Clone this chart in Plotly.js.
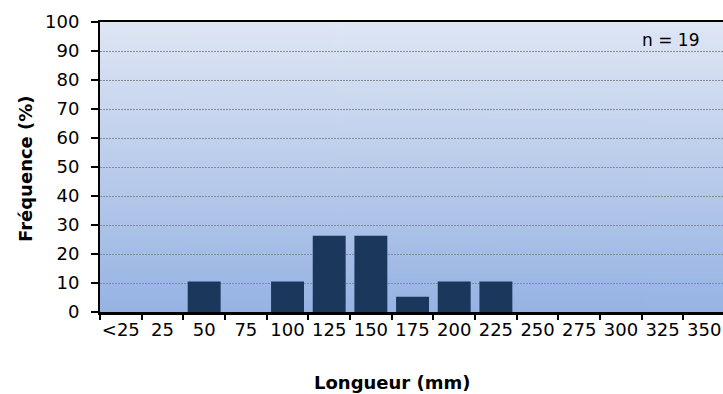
<!DOCTYPE html>
<html>
<head>
<meta charset="utf-8">
<script src="https://cdn.plot.ly/plotly-3.0.1.min.js"></script>
<style>
html,body{margin:0;padding:0;background:#fff;overflow:hidden;}
#chart{width:723px;height:394px;}
</style>
</head>
<body>
<div id="chart"></div>
<script>
var categories = ["<25","25","50","75","100","125","150","175","200","225","250","275","300","325","350"];
var frequencies = [0, 0, 10.5, 0, 10.5, 26.3, 26.3, 5.3, 10.5, 10.5, 0, 0, 0, 0, 0];
var sampleLabel = "n = 19";
var xTitle = "Longueur (mm)";
var yTitle = "Fréquence (%)";

function gradientURL(top, bottom){
  var c = document.createElement('canvas');
  c.width = 4; c.height = 256;
  var ctx = c.getContext('2d');
  var g = ctx.createLinearGradient(0,0,0,256);
  g.addColorStop(0, top);
  g.addColorStop(1, bottom);
  ctx.fillStyle = g;
  ctx.fillRect(0,0,4,256);
  return c.toDataURL();
}

var FONT = "DejaVu Sans, Arial, sans-serif";

var trace = {
  type: 'bar',
  x: categories,
  y: frequencies,
  width: 0.79,
  marker: {color: '#1b375c', line: {width: 0}},
  hoverinfo: 'x+y'
};

var layout = {
  width: 723,
  height: 394,
  margin: {l: 100, r: 0, t: 22, b: 82, pad: 0},
  paper_bgcolor: '#ffffff',
  plot_bgcolor: 'rgba(0,0,0,0)',
  showlegend: false,
  font: {family: FONT, size: 18, color: '#000'},
  bargap: 0.21,
  images: [{
    source: gradientURL('#dfe6f4', '#96b3e3'),
    xref: 'paper', yref: 'paper',
    x: 0, y: 1, sizex: 1, sizey: 1,
    xanchor: 'left', yanchor: 'top',
    sizing: 'stretch', layer: 'below'
  }],
  xaxis: {
    type: 'category',
    range: [-0.5, 14.45],
    tickson: 'boundaries',
    tickangle: 0,
    ticks: 'outside',
    ticklen: 5,
    tickwidth: 2,
    tickcolor: '#000',
    showline: true,
    linecolor: '#000',
    linewidth: 2.5,
    mirror: true,
    showgrid: false,
    zeroline: false,
    tickfont: {family: FONT, size: 18, color: '#000'},
    fixedrange: true
  },
  yaxis: {
    range: [0, 100],
    dtick: 10,
    tick0: 0,
    ticks: 'outside',
    ticklen: 7,
    tickwidth: 2,
    tickcolor: '#000',
    ticksuffix: '\u00a0\u200a',
    showline: true,
    linecolor: '#000',
    linewidth: 2.5,
    mirror: true,
    showgrid: true,
    gridcolor: '#858b96',
    griddash: '2px,1px',
    gridwidth: 1,
    zeroline: false,
    tickfont: {family: FONT, size: 18, color: '#000'},
    fixedrange: true
  },
  annotations: [
    {text: '<b>' + xTitle + '</b>', xref: 'paper', yref: 'paper', x: 0.469, y: 0,
     yshift: -70, xanchor: 'center', yanchor: 'middle', showarrow: false,
     font: {family: FONT, size: 18, color: '#000'}},
    {text: '<b>' + yTitle + '</b>', xref: 'paper', yref: 'paper', x: 0, y: 0.5,
     xshift: -75, yshift: -2, xanchor: 'center', yanchor: 'middle', textangle: -90, showarrow: false,
     font: {family: FONT, size: 18, color: '#000'}},
    {text: sampleLabel, xref: 'paper', yref: 'paper', x: 0.915, y: 1,
     yshift: -18, xanchor: 'center', yanchor: 'middle', showarrow: false,
     font: {family: FONT, size: 17, color: '#000'}}
  ]
};

Plotly.newPlot('chart', [trace], layout, {displayModeBar: false, staticPlot: true});
</script>
</body>
</html>
